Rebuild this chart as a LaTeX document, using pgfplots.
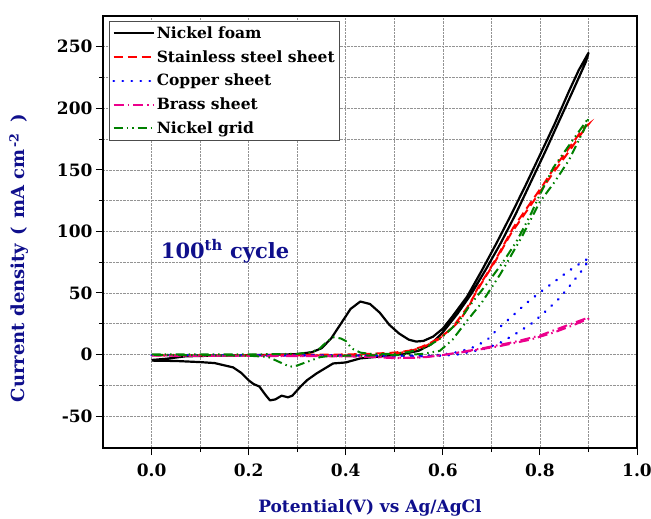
\documentclass[border=0pt]{standalone}
\usepackage{fontspec}
\setmainfont{DejaVu Serif}
\usepackage{pgfplots}
\pgfplotsset{compat=1.18}
\definecolor{navy}{rgb}{0.06,0.06,0.55}
\definecolor{dgreen}{rgb}{0,0.5,0}
\begin{document}
\begin{tikzpicture}
\begin{axis}[
 scale only axis, width=534pt, height=432pt,
 xmin=-0.1, xmax=1.0, ymin=-76, ymax=275,
 xtick={0,0.2,0.4,0.6,0.8,1.0},
 minor xtick={0.1,0.3,0.5,0.7,0.9},
 ytick={-50,0,50,100,150,200,250},
 minor ytick={-25,25,75,125,175,225},
 grid=both,
 major grid style={gray!85, densely dotted, line width=0.6pt},
 minor grid style={gray!85, densely dotted, line width=0.6pt},
 axis line style={line width=1.2pt},
 tick style={black, line width=1pt},
 tick align=outside,
 major tick length=7pt, minor tick length=4pt,
 xtick pos=bottom, ytick pos=left,
 ticklabel style={font=\fontsize{17}{20}\selectfont\bfseries},
 /pgf/number format/assume math mode=true,
 xticklabel style={yshift=-5pt, /pgf/number format/.cd, fixed, fixed zerofill, precision=1},
 xlabel={Potential(V) vs Ag/AgCl},
 ylabel={Current density\hspace{0.45em}(\hspace{0.45em}mA cm\textsuperscript{\,-2}\hspace{0.6em})},
 label style={font=\fontsize{17}{20}\selectfont\bfseries, text=navy},
 xlabel style={at={(axis description cs:0.5,-0.139)}, anchor=center},
 ylabel style={at={(axis description cs:-0.157,0.44)}, anchor=center, font=\fontsize{18}{20}\selectfont\bfseries},
 legend style={at={(0.011,0.988)}, anchor=north west, font=\fontsize{15.5}{18}\selectfont\bfseries, draw=gray!60!black, line width=0.8pt, row sep=6.5pt, inner sep=3pt, cells={anchor=west}},
 legend image code/.code={\draw[#1] (0pt,0pt) -- (40pt,0pt);},
]
% Nickel foam
\addplot[black, line width=2.2pt, line join=round] coordinates {
(0.00,-4.5)(0.03,-3.5)(0.07,-1.5)(0.15,-0.8)(0.25,-0.3)(0.30,0.3)(0.33,1.8)(0.35,5)(0.37,13)(0.39,25)(0.41,37)(0.43,43)(0.45,41)(0.47,34)(0.49,24)(0.51,17)(0.53,12)(0.545,10.5)(0.56,11)(0.58,14.5)(0.60,21)(0.62,31)(0.65,47)(0.68,68)(0.71,90)(0.74,113)(0.77,137)(0.80,162)(0.83,187)(0.86,214)(0.88,231)(0.90,245)
(0.895,238)(0.87,216)(0.84,190)(0.81,164)(0.78,139)(0.75,114)(0.72,91)(0.69,70)(0.66,50)(0.63,33)(0.60,18)(0.575,8)(0.55,3)(0.52,0.5)(0.48,-1.3)(0.43,-3.2)(0.40,-6.5)(0.374,-7.3)(0.34,-15.4)(0.32,-21)(0.306,-26.5)(0.29,-33.5)(0.281,-34.8)(0.268,-33.5)(0.255,-36.5)(0.244,-37.3)(0.235,-33)(0.222,-26)(0.21,-24)(0.20,-21)(0.185,-15)(0.168,-10.5)(0.13,-7)(0.10,-6.2)(0.05,-5.3)(0.00,-5)
};
\addlegendentry{Nickel foam}
% Stainless steel
\addplot[red, line width=2pt, dash pattern=on 9pt off 5pt] coordinates {
(0,-0.5)(0.1,-0.5)(0.2,-0.5)(0.3,-0.3)(0.4,0)(0.45,0.5)(0.5,1.5)(0.53,3)(0.555,6)(0.575,9.5)(0.595,14)(0.615,20)(0.635,27.5)(0.655,40)(0.672,54)(0.69,65)(0.71,78)(0.745,103)(0.775,120)(0.807,138)(0.83,152)(0.855,165)(0.875,176)(0.89,184)(0.90,187)
(0.89,182)(0.86,165)(0.83,149)(0.80,132)(0.77,115)(0.74,98)(0.71,77)(0.68,58)(0.65,38)(0.62,22)(0.59,12)(0.56,6)(0.53,2.5)(0.5,0.5)(0.45,-0.5)(0.4,-0.8)(0.3,-0.8)(0.2,-0.8)(0.1,-0.8)(0,-0.8)
};
\addlegendentry{Stainless steel sheet}
% Copper
\addplot[blue, line width=2.5pt, line cap=round, dash pattern=on 0.5pt off 8.5pt] coordinates {
(0,-0.5)(0.2,-0.6)(0.4,-0.8)(0.5,-1)(0.55,-1.5)(0.6,-1)(0.63,0)(0.656,2)(0.69,5)(0.721,10)(0.755,18)(0.786,26)(0.817,37)(0.841,46)(0.862,56)(0.886,68)(0.90,76)
(0.90,78)(0.889,75.6)(0.858,67.5)(0.828,58.6)(0.80,50.5)(0.77,41)(0.742,30.8)(0.714,21)(0.69,11.3)(0.656,4.6)(0.62,1)(0.58,-1)(0.5,-1)(0.3,-0.8)(0,-0.5)
};
\addlegendentry{Copper sheet}
% Brass
\addplot[magenta, line width=2pt, dash pattern=on 10pt off 4pt on 1.5pt off 4pt] coordinates {
(0,-0.8)(0.2,-1)(0.4,-1.5)(0.5,-2.5)(0.54,-2.8)(0.57,-2)(0.594,-0.8)(0.63,1.5)(0.676,4.6)(0.745,10)(0.80,15.4)(0.855,23.5)(0.893,29)(0.90,30)
(0.9,29)(0.87,24)(0.83,18)(0.78,12)(0.72,7)(0.66,3)(0.6,-0.5)(0.56,-2.2)(0.5,-3)(0.45,-2)(0.4,-1.5)(0.2,-1.2)(0,-1)
};
\addlegendentry{Brass sheet}
% Nickel grid
\addplot[dgreen, line width=2pt, dash pattern=on 9pt off 4pt on 1.5pt off 4pt on 1.5pt off 4pt] coordinates {
(0,0)(0.1,0)(0.2,0)(0.3,0.5)(0.33,2)(0.347,5)(0.36,10)(0.374,14)(0.39,13)(0.40,11)(0.412,5)(0.43,1.5)(0.45,0.5)(0.5,0.5)(0.53,2)(0.567,6)(0.595,13)(0.615,20)(0.635,28)(0.656,40)(0.69,57)(0.724,75)(0.752,92)(0.78,113)(0.80,130)(0.828,152)(0.862,171)(0.90,192)
(0.895,186)(0.86,158)(0.83,140)(0.80,124)(0.762,95)(0.718,65)(0.68,42)(0.649,27)(0.62,12)(0.594,3)(0.56,0.5)(0.52,-0.5)(0.47,-0.5)(0.44,-1)(0.40,-1)(0.36,-1.5)(0.347,-2.2)(0.319,-6.2)(0.30,-9)(0.285,-10)(0.257,-5)(0.24,-2)(0.2,-1)(0.1,-0.5)(0,-0.3)
};
\addlegendentry{Nickel grid}
\node[anchor=base west, font=\fontsize{21}{24}\selectfont\bfseries, text=navy] at (axis cs:0.012,78) {100\textsuperscript{th} cycle};
\end{axis}
\pgfresetboundingbox
\path[use as bounding box] (current axis.south west) ++(-103pt,-70pt) rectangle ([shift={(14pt,16pt)}]current axis.north east);
\end{tikzpicture}
\end{document}
